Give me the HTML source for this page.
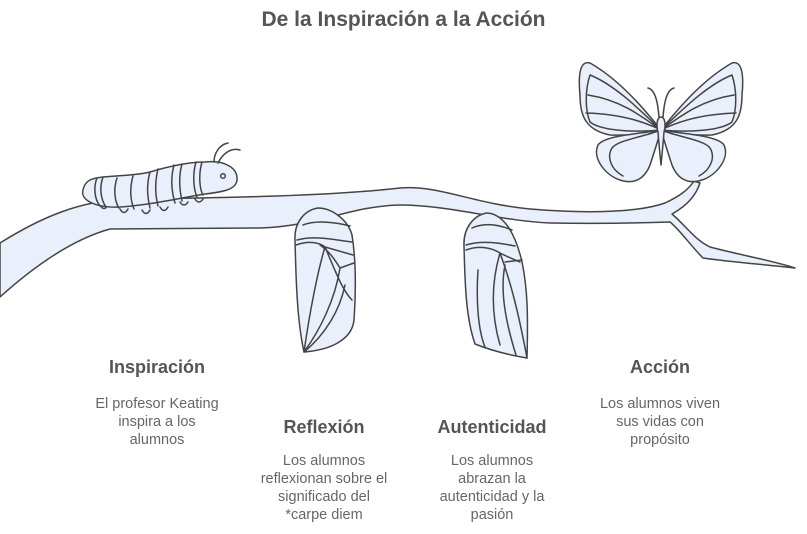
<!DOCTYPE html>
<html><head><meta charset="utf-8"><style>
html,body{margin:0;padding:0;background:#fff;}
body{width:807px;height:534px;position:relative;overflow:hidden;font-family:"Liberation Sans",Arial,sans-serif;}
.t{position:absolute;text-align:center;color:#555;}
.h{font-weight:bold;font-size:18px;}
.d{font-size:14.5px;color:#666;line-height:18px;}
</style></head><body>
<svg width="807" height="534" style="position:absolute;left:0;top:0" fill="#eaf0fb" stroke="#444" stroke-width="1.5" stroke-linejoin="round" stroke-linecap="round">
<!-- branch -->
<path d="M0,243 C40,218 80,200 130,199 C220,198 330,196 400,188 C440,185 470,203 530,209 C590,214 640,212 665,203 C680,196 688,190 694,181 L700,183 C696,195 688,205 672,214 C685,225 695,240 710,247 C740,255 770,260 795,268 C770,265 730,262 703,258 C690,245 680,230 670,222 C640,223 600,224 550,223 C500,221 450,205 400,205 C350,206 320,226 260,228 L110,229 C70,240 30,270 0,297 Z"/>
<!-- caterpillar -->
<g>
<path d="M100,205 q4,7 8,0 M120,209 q4,7 8,0 M142,210 q4,7 8,0 M160,207 q4,7 8,0 M180,202 q4,6 8,0 M195,199 q4,6 8,0"/>
<path d="M90,180 C100,175 130,177 150,172 C170,166 190,162 205,162 C225,160 238,168 237,180 C236,190 222,192 205,194 C180,198 150,205 120,207 C95,208 80,200 83,190 C84,185 86,182 90,180 Z"/>
<path fill="none" d="M97,178 C93,188 95,200 100,206 M103,177 C99,188 101,200 106,207 M117,178 C113,190 115,202 119,208 M133,176 C129,190 131,202 134,209 M150,172 C146,186 148,200 150,208 M158,169 C154,185 156,198 158,206 M174,165 C170,180 172,193 175,203 M182,164 C178,178 180,192 182,201 M196,162 C192,176 194,190 197,197 M202,162 C198,176 200,190 203,195"/>
<circle cx="223" cy="176" r="2.3"/>
<path fill="none" d="M214,162 C214,155 218,145 228,143 M218,163 C222,155 230,147 240,150"/>
</g>
<!-- chrysalis 1 -->
<g>
<path d="M318,208 C305,210 294,222 295,240 C296,280 297,320 304,352 C330,350 352,340 354,320 C356,290 356,260 352,235 C348,220 332,208 318,208 Z"/>
<path fill="none" d="M303,225 C315,220 335,222 350,226 M297,240 C315,235 335,240 352,242 M320,245 C330,252 335,260 340,268 M325,247 L353,255 M340,268 L354,263 M296,245 C310,240 320,243 325,247 C318,270 310,310 304,352 M325,247 C335,270 342,290 352,300 M340,268 C335,300 320,330 304,352 M345,285 C340,310 325,335 304,352"/>
</g>
<!-- chrysalis 2 -->
<g>
<path d="M487,213 C474,215 463,228 464,246 C465,286 466,318 475,344 C495,352 515,356 527,358 C528,320 528,290 522,262 C516,236 505,214 487,213 Z"/>
<path fill="none" d="M472,228 C485,222 500,225 512,230 M466,245 C482,240 500,243 515,246 M466,250 C480,245 492,248 500,253 M500,253 C510,258 515,260 520,262 M505,262 L522,260 M500,253 C510,280 518,310 527,358 M500,253 C492,280 490,310 500,345 M505,265 C500,290 505,320 516,355 M478,270 C476,300 478,330 485,347"/>
</g>
<!-- butterfly -->
<g>
<path d="M661,130 C645,110 620,80 590,63 C580,60 578,75 580,95 C580,115 585,130 610,135 C635,136 650,132 661,130 Z"/>
<path fill="none" d="M661,130 C640,110 615,85 590,75 C585,90 585,110 590,122 C600,130 630,133 661,130 M588,95 C620,100 640,115 661,130 M586,113 C620,114 645,122 661,130"/>
<path d="M661,130 C677,110 702,80 732,63 C742,60 744,75 742,95 C742,115 737,130 712,135 C687,136 672,132 661,130 Z"/>
<path fill="none" d="M661,130 C682,110 707,85 732,75 C737,90 737,110 732,122 C722,130 692,133 661,130 M734,95 C702,100 682,115 661,130 M736,113 C702,114 677,122 661,130"/>
<path d="M661,130 C640,134 605,135 598,145 C592,158 605,175 620,180 C635,185 645,178 650,165 C655,150 658,140 661,130 Z"/>
<path fill="none" d="M661,130 C640,138 618,140 612,148 C606,158 612,170 623,176"/>
<path d="M661,130 C682,134 717,135 724,145 C730,158 717,175 702,180 C687,185 677,178 672,165 C667,150 664,140 661,130 Z"/>
<path fill="none" d="M661,130 C682,138 704,140 710,148 C716,158 710,170 699,176"/>
<path d="M661,117 C657,117 656,125 658,132 C659,145 660,155 661,165 C662,155 663,145 664,132 C666,125 665,117 661,117 Z"/>
<path fill="none" d="M659,117 C658,105 656,90 648,88 M663,117 C664,105 666,90 674,88"/>
</g>
</svg>
<div class="t h" style="left:0;width:807px;top:8px;font-size:21px;">De la Inspiración a la Acción</div>
<div class="t h" style="left:57px;width:200px;top:357px;">Inspiración</div>
<div class="t d" style="left:57px;width:200px;top:395px;">El profesor Keating<br>inspira a los<br>alumnos</div>
<div class="t h" style="left:224px;width:200px;top:417px;">Reflexión</div>
<div class="t d" style="left:224px;width:200px;top:452px;">Los alumnos<br>reflexionan sobre el<br>significado del<br>*carpe diem</div>
<div class="t h" style="left:392px;width:200px;top:417px;">Autenticidad</div>
<div class="t d" style="left:392px;width:200px;top:452px;">Los alumnos<br>abrazan la<br>autenticidad y la<br>pasión</div>
<div class="t h" style="left:560px;width:200px;top:357px;">Acción</div>
<div class="t d" style="left:560px;width:200px;top:395px;">Los alumnos viven<br>sus vidas con<br>propósito</div>
</body></html>
